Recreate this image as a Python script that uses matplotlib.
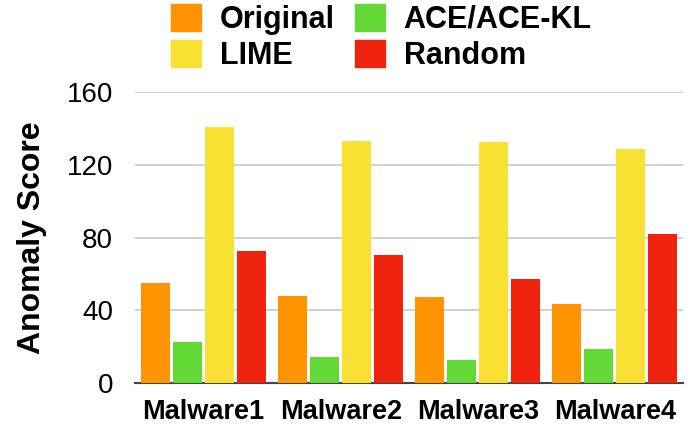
import numpy as np
import matplotlib.pyplot as plt
from matplotlib.patches import Patch

groups = ["Malware1", "Malware2", "Malware3", "Malware4"]
series = ["Original", "ACE/ACE-KL", "LIME", "Random"]
original = [55, 48, 47, 43.5]
ace = [22.5, 14, 12.5, 18.5]
lime = [141, 133, 132.5, 129]
random_ = [72.5, 70.5, 57, 82]
colors = ["#ff9400", "#63d935", "#f8e133", "#ef230e"]

plt.rcParams['font.family'] = ['Liberation Sans', 'DejaVu Sans']

fig = plt.figure(figsize=(6.93, 4.32), dpi=100)
ax = fig.add_axes([0.195, 0.114, 0.791, 0.672])

x = np.arange(len(groups))
step = 0.233
width = 0.212
vals = [original, ace, lime, random_]
for i, v in enumerate(vals):
    ax.bar(x + (i - 1.5) * step, v, width, color=colors[i], zorder=3)

ax.set_xlim(-0.5, 3.5)
ax.set_ylim(0, 160)
ax.set_yticks([0, 40, 80, 120, 160])
ax.set_xticks(x)
ax.set_xticklabels(groups, fontsize=19.5, fontweight='bold')
ax.tick_params(axis='y', length=0, labelsize=20, pad=16)
ax.tick_params(axis='x', length=0, pad=12)
ax.grid(axis='y', color='#c8c8c8', linewidth=1.2, zorder=0)
for s in ['top', 'right', 'left']:
    ax.spines[s].set_visible(False)
ax.spines['bottom'].set_color('#444444')
ax.spines['bottom'].set_linewidth(1.5)
ax.set_ylabel("Anomaly Score", fontsize=23, fontweight='bold', labelpad=14)

handles = [Patch(color=c) for c in colors]
fig.legend([handles[0], handles[2], handles[1], handles[3]],
           ["Original", "LIME", "ACE/ACE-KL", "Random"],
           ncol=2, loc='upper left', bbox_to_anchor=(171 / 693, 1 - 4 / 432),
           frameon=False, prop={'size': 22, 'weight': 'bold'},
           borderpad=0, borderaxespad=0,
           handlelength=0.98, handleheight=0.98, handletextpad=0.62,
           columnspacing=0.65, labelspacing=0.17)

fig.savefig("out.png", dpi=100)
